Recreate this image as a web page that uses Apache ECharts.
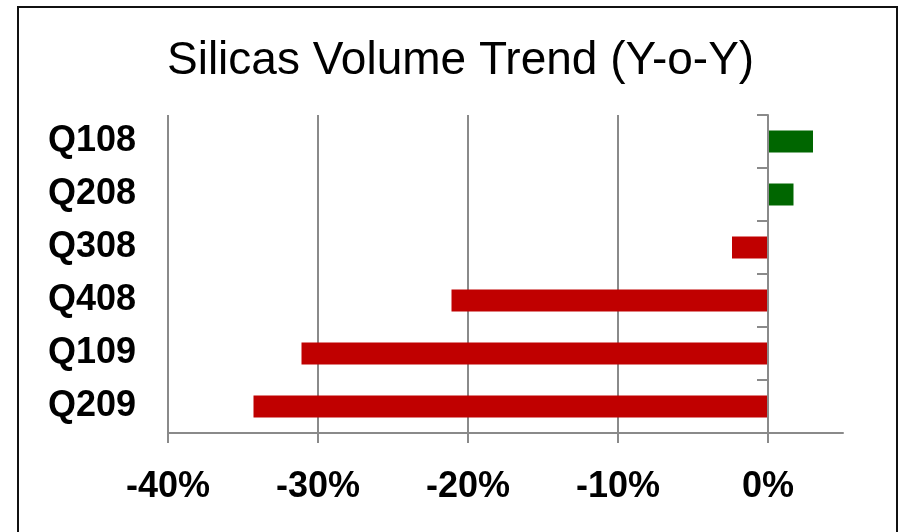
<!DOCTYPE html>
<html>
<head>
<meta charset="utf-8">
<script src="https://cdn.jsdelivr.net/npm/echarts@6/dist/echarts.min.js"></script>
<style>
  html, body { margin: 0; padding: 0; background: #fff; }
  #chart { width: 898px; height: 532px; }
</style>
</head>
<body>
<div id="chart"></div>
<script>
// Quarterly year-over-year silica volume change, in percent
const quarters = ['Q108', 'Q208', 'Q308', 'Q408', 'Q109', 'Q209'];
const yoyChange = [3.0, 1.7, -2.4, -21.1, -31.1, -34.3];
const xTicks = [-40, -30, -20, -10, 0];

const GREEN = '#006600';
const RED = '#C00000';
const AXIS_GRAY = '#8a8a8a';
const FONT = '"Liberation Sans", Arial, Helvetica, sans-serif';

const chart = echarts.init(document.getElementById('chart'), null, { renderer: 'canvas' });

chart.setOption({
  backgroundColor: '#ffffff',
  animation: false,
  title: {
    text: 'Silicas Volume Trend (Y-o-Y)',
    left: 162,
    top: 33,
    textStyle: { fontFamily: FONT, fontSize: 46, fontWeight: 'normal', color: '#000' }
  },
  graphic: [{
    type: 'rect',
    shape: { x: 18, y: 7, width: 879, height: 560 },
    style: { fill: 'none', stroke: '#111', lineWidth: 2 },
    silent: true,
    z: 100
  }],
  grid: { left: 168, right: 55, top: 115, bottom: 99, containLabel: false },
  xAxis: {
    type: 'value',
    min: -40,
    max: 5,
    interval: 10,
    axisLine: { show: true, lineStyle: { color: AXIS_GRAY, width: 2 } },
    axisTick: { show: true, length: 10, lineStyle: { color: AXIS_GRAY, width: 2 }, customValues: xTicks },
    axisLabel: {
      customValues: xTicks,
      margin: 36,
      fontFamily: FONT, fontSize: 36, fontWeight: 'bold', color: '#000',
      formatter: v => v + '%'
    },
    splitLine: { show: true, showMaxLine: false, lineStyle: { color: AXIS_GRAY, width: 2 } }
  },
  yAxis: [{
    // labels on the left edge of the plot
    type: 'category',
    data: quarters,
    inverse: true,
    position: 'left',
    axisLine: { show: false, onZero: false },
    axisTick: { show: false },
    axisLabel: {
      margin: 32, padding: [4, 0, 0, 0],
      fontFamily: FONT, fontSize: 36, fontWeight: 'bold', color: '#000'
    }
  }, {
    // zero line with tick marks between the quarters
    type: 'category',
    data: quarters,
    inverse: true,
    position: 'left',
    z: 5,
    axisLine: { show: true, onZero: true, lineStyle: { color: AXIS_GRAY, width: 2 } },
    axisTick: { show: true, length: 11, lineStyle: { color: AXIS_GRAY, width: 2 } },
    axisLabel: { show: false },
    splitLine: { show: false }
  }],
  series: [{
    type: 'bar',
    yAxisIndex: 0,
    barWidth: 22,
    data: yoyChange.map(v => ({
      value: v,
      itemStyle: { color: v >= 0 ? GREEN : RED }
    }))
  }]
});
</script>
</body>
</html>
